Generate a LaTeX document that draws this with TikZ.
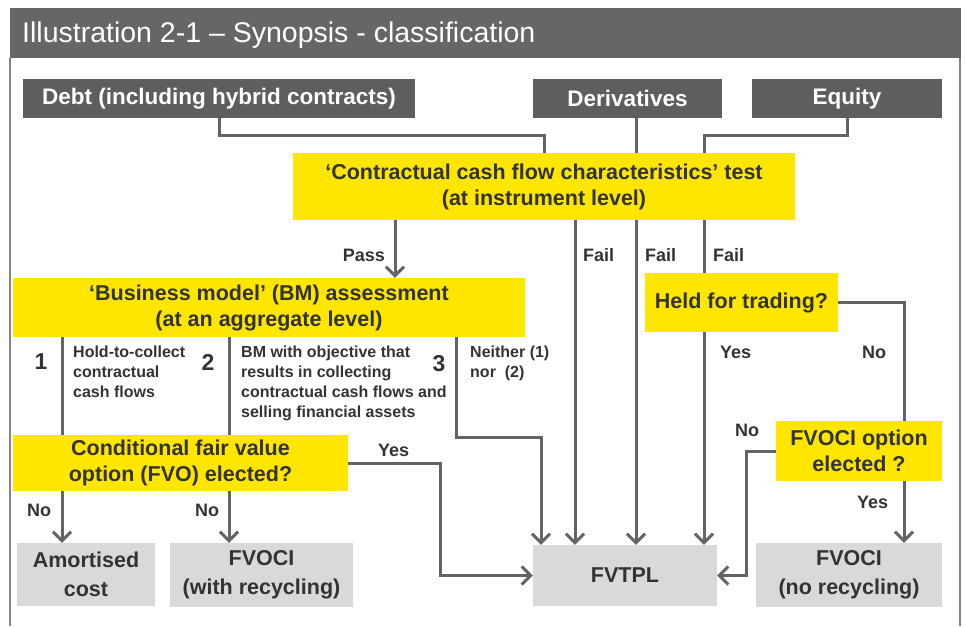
\documentclass[tikz,border=0pt]{standalone}
\usepackage{fontspec}
\setmainfont{Liberation Sans}
\usetikzlibrary{arrows.meta}

\definecolor{eyyellow}{HTML}{FFE600}
\definecolor{srcgray}{HTML}{5E5E5E}
\definecolor{bargray}{HTML}{666666}
\definecolor{endgray}{HTML}{D9D9D9}
\definecolor{linegray}{HTML}{646464}
\definecolor{txtgray}{HTML}{333333}

\begin{document}
\begin{tikzpicture}[x=1pt,y=-1pt]

% Define box, connector and label styles
\tikzstyle{srcbox} =[fill=srcgray, text=white, inner sep=0pt,
                     font=\bfseries\fontsize{22.5}{26}\selectfont]
\tikzstyle{testbox}=[fill=eyyellow, text=txtgray, align=center, inner sep=0pt,
                     font=\bfseries\fontsize{21.5}{26}\selectfont]
\tikzstyle{endbox} =[fill=endgray, text=txtgray, align=center, inner sep=0pt,
                     font=\bfseries\fontsize{21.5}{29}\selectfont]
\tikzstyle{link}   =[draw=linegray, line width=3pt]
\tikzstyle{arr}    =[link, -{Straight Barb[length=9pt, width=18pt]}]
\tikzstyle{lbl}    =[text=txtgray, inner sep=0pt, anchor=west,
                     font=\bfseries\fontsize{18}{21}\selectfont]
\tikzstyle{num}    =[text=txtgray, inner sep=0pt,
                     font=\bfseries\fontsize{23}{26}\selectfont]
\tikzstyle{note}   =[text=txtgray, inner sep=0pt, anchor=north west, align=left,
                     font=\bfseries\fontsize{16}{20}\selectfont]

\useasboundingbox (0,0) rectangle (965,626);

% frame and title bar
\fill[bargray] (10,8) rectangle (961,58);
\draw[linegray!80, line width=2pt] (10,58) -- (10,626);
\draw[linegray!80, line width=2pt] (960,58) -- (960,626);
\node[anchor=west, text=white, inner sep=0pt, font=\fontsize{28.5}{32}\selectfont]
  (title) at (22,35) {Illustration 2-1 – Synopsis - classification};

% columns of the vertical connectors
\coordinate (c1) at (62,0);
\coordinate (c2) at (229,0);
\coordinate (c3) at (456,0);
\coordinate (cD) at (541,0);
\coordinate (cA) at (575,0);
\coordinate (cB) at (636,0);
\coordinate (cC) at (704,0);
\coordinate (cE) at (904,0);
\coordinate (cP) at (395,0);

% boxes
\node[srcbox, minimum width=392pt, minimum height=39pt] (debt) at (219,98.5)
  {Debt (including hybrid contracts)};
\node[srcbox, minimum width=189pt, minimum height=39pt] (deriv) at (627.5,98.5)
  {Derivatives};
\node[srcbox, minimum width=190pt, minimum height=39pt] (equity) at (847,98.5)
  {Equity};

\node[testbox, minimum width=502pt, minimum height=67pt] (ccfc) at (544,186.5)
  {‘Contractual cash flow characteristics’ test\\(at instrument level)};
\node[testbox, minimum width=512pt, minimum height=59pt] (bm) at (269,307.5)
  {‘Business model’ (BM) assessment\\(at an aggregate level)};
\node[testbox, minimum width=193pt, minimum height=59pt] (held) at (741.5,302.5)
  {Held for trading?};
\node[testbox, minimum width=335pt, minimum height=56pt] (cond) at (180.5,463)
  {Conditional fair value\\option (FVO) elected?};
\node[testbox, minimum width=166pt, minimum height=60pt] (opt) at (859,451)
  {FVOCI option\\elected ?};

\node[endbox, minimum width=138pt, minimum height=63pt] (amort) at (86,574.5)
  {Amortised\\cost};
\node[endbox, minimum width=183pt, minimum height=64pt] (fvocir) at (261.5,575)
  {FVOCI\\(with recycling)};
\node[endbox, minimum width=184pt, minimum height=61pt] (fvtpl) at (625,575.5)
  {FVTPL};
\node[endbox, minimum width=186pt, minimum height=64pt] (fvocin) at (849,575)
  {FVOCI\\(no recycling)};

% into the contractual cash flow test
\draw[link] (debt.south) -- ++(0,17) -| (ccfc.north);
\draw[link] (deriv.south -| cB) -- (ccfc.north -| cB);
\draw[link] (equity.south) -- ++(0,17) -| (ccfc.north -| cC);

% pass / fail
\draw[arr] (ccfc.south -| cP) -- (bm.north -| cP);
\foreach \c in {cA,cB}{
  \draw[arr] (ccfc.south -| \c) -- (fvtpl.north -| \c);
}
\draw[link] (ccfc.south -| cC) -- (held.north -| cC);
\draw[arr] (held.south -| cC) -- (fvtpl.north -| cC);

\node[lbl, anchor=east] (pass) at (385,255) {Pass};
\node[lbl] (fail1) at (583,255) {Fail};
\node[lbl] (fail2) at (645,255) {Fail};
\node[lbl] (fail3) at (713,255) {Fail};

% business model branches
\draw[link] (bm.south -| c1) -- (cond.north -| c1);
\draw[link] (bm.south -| c2) -- (cond.north -| c2);
\draw[arr] (bm.south -| c3) -- ++(0,100) -| (fvtpl.north -| cD);

\node[num] (n1) at (41,362) {1};
\node[num] (n2) at (208,362) {2};
\node[num] (n3) at (439,364) {3};
\node[note] (htc) at (73,346) {Hold-to-collect\\contractual\\cash flows};
\node[note] (htcs) at (241,346)
  {BM with objective that\\results in collecting\\contractual cash flows and\\selling financial assets};
\node[note] (other) at (470,346) {Neither (1)\\nor\ \ (2)};

% fair value option
\draw[arr] (cond.south -| c1) -- (amort.north -| c1);
\draw[arr] (cond.south -| c2) -- (fvocir.north -| c2);
\draw[arr] (cond.east) -- ++(92,0) |- (fvtpl.west);
\node[lbl] (no1) at (27,510) {No};
\node[lbl] (no2) at (195,510) {No};
\node[lbl] (yes1) at (378,450) {Yes};

% held for trading and FVOCI option
\draw[link] (held.east) -| (opt.north -| cE);
\draw[arr] (opt.south -| cE) -- (fvocin.north -| cE);
\draw[arr] (opt.west) -- ++(-29,0) |- (fvtpl.east);
\node[lbl] (yes2) at (720,352) {Yes};
\node[lbl] (no3) at (862,352) {No};
\node[lbl] (no4) at (735,430) {No};
\node[lbl] (yes3) at (857,502) {Yes};

\end{tikzpicture}
\end{document}
